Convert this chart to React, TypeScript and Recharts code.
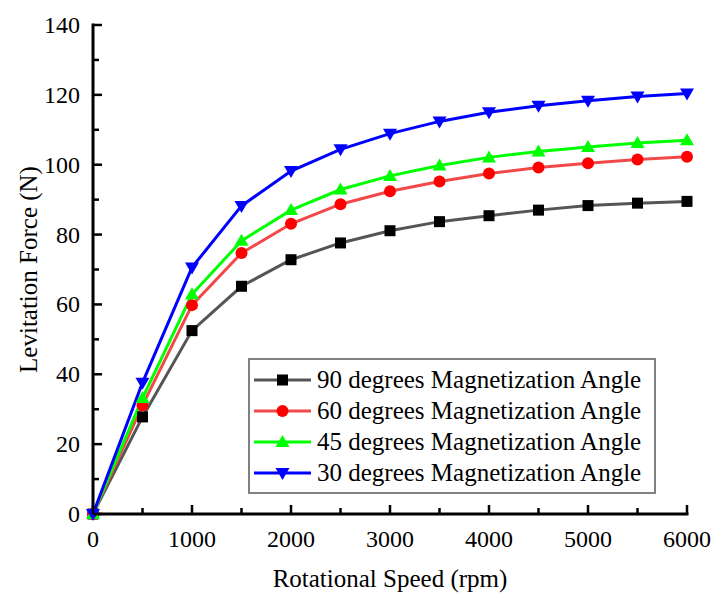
import React from "react";
import { LineChart, Line, XAxis, YAxis, Legend } from "recharts";

const speeds = [0, 500, 1000, 1500, 2000, 2500, 3000, 3500, 4000, 4500, 5000, 5500, 6000];
const angle90 = [0, 27.8, 52.5, 65.2, 72.8, 77.6, 81.1, 83.7, 85.4, 87.0, 88.3, 89.0, 89.5];
const angle60 = [0, 31.1, 59.8, 74.7, 83.1, 88.7, 92.4, 95.2, 97.5, 99.2, 100.4, 101.5, 102.3];
const angle45 = [0, 33.2, 62.9, 78.2, 87.0, 92.9, 96.8, 99.8, 102.1, 103.8, 105.1, 106.2, 107.0];
const angle30 = [0, 37.6, 70.6, 88.2, 98.2, 104.4, 108.9, 112.4, 115.0, 116.9, 118.3, 119.5, 120.4];

const xTicks = [0, 500, 1000, 1500, 2000, 2500, 3000, 3500, 4000, 4500, 5000, 5500, 6000];
const yTicks = [0, 10, 20, 30, 40, 50, 60, 70, 80, 90, 100, 110, 120, 130, 140];

const FONT = "Liberation Serif, Times New Roman, serif";

type Marker = "square" | "circle" | "up" | "down";

const SERIES: { key: string; name: string; line: string; fill: string; marker: Marker }[] = [
  { key: "a90", name: "90 degrees Magnetization Angle", line: "#555555", fill: "#000000", marker: "square" },
  { key: "a60", name: "60 degrees Magnetization Angle", line: "#f24848", fill: "#ff0000", marker: "circle" },
  { key: "a45", name: "45 degrees Magnetization Angle", line: "#00ff00", fill: "#00ff00", marker: "up" },
  { key: "a30", name: "30 degrees Magnetization Angle", line: "#0000ff", fill: "#0000ff", marker: "down" },
];

const data = speeds.map((speed, i) => ({
  speed,
  a90: angle90[i],
  a60: angle60[i],
  a45: angle45[i],
  a30: angle30[i],
}));

function drawMarker(kind: Marker, cx: number, cy: number, color: string, key?: string | number) {
  if (kind === "square") {
    return <rect key={key} x={cx - 5.5} y={cy - 5.5} width={11} height={11} fill={color} />;
  }
  if (kind === "circle") {
    return <circle key={key} cx={cx} cy={cy} r={6} fill={color} />;
  }
  if (kind === "up") {
    return <polygon key={key} points={`${cx},${cy - 7} ${cx + 7},${cy + 5} ${cx - 7},${cy + 5}`} fill={color} />;
  }
  return <polygon key={key} points={`${cx},${cy + 7} ${cx + 7},${cy - 5} ${cx - 7},${cy - 5}`} fill={color} />;
}

const frame = { stroke: "#000", strokeWidth: 3, strokeLinecap: "square" as const };
const textStyle = { fontFamily: FONT, fontSize: 24, fill: "#000" };

// inward ticks, longer on the labelled ones
function BottomTick({ x, y, payload }: any) {
  const major = payload.value % 1000 === 0;
  return (
    <g>
      <line x1={x} y1={y} x2={x} y2={y - (major ? 9 : 6)} stroke="#000" strokeWidth={2.5} />
      {major && (
        <text x={x} y={y + 33} textAnchor="middle" style={textStyle}>
          {payload.value}
        </text>
      )}
    </g>
  );
}

function LeftTick({ x, y, payload }: any) {
  const major = payload.value % 20 === 0;
  return (
    <g>
      <line x1={x} y1={y} x2={x + (major ? 9 : 6)} y2={y} stroke="#000" strokeWidth={2.5} />
      {major && (
        <text x={x - 13} y={y + 8} textAnchor="end" style={textStyle}>
          {payload.value}
        </text>
      )}
    </g>
  );
}

function TopTick({ x, y, payload }: any) {
  const major = payload.value % 1000 === 0;
  return <line x1={x} y1={y} x2={x} y2={y + (major ? 9 : 6)} stroke="#000" strokeWidth={2.5} />;
}

function RightTick({ x, y, payload }: any) {
  const major = payload.value % 20 === 0;
  return <line x1={x} y1={y} x2={x - (major ? 9 : 6)} y2={y} stroke="#000" strokeWidth={2.5} />;
}

function LegendBox() {
  return (
    <svg width={409} height={137}>
      <rect x={1} y={1} width={406} height={134} fill="#fff" stroke="#808080" strokeWidth={2} />
      {SERIES.map((s, i) => {
        const cy = 22 + i * 31;
        return (
          <g key={s.key}>
            <line x1={6} y1={cy} x2={63} y2={cy} stroke={s.line} strokeWidth={3} />
            {drawMarker(s.marker, 34.5, cy, s.fill)}
            <text x={69} y={cy + 8} style={{ ...textStyle, fontSize: 25 }}>
              {s.name}
            </text>
          </g>
        );
      })}
    </svg>
  );
}

export default function App() {
  return (
    <div style={{ position: "absolute", left: 0, top: 0, background: "#fff" }}>
      <LineChart width={714} height={597} data={data} margin={{ top: 25, right: 27, left: 0, bottom: 0 }}>
        <XAxis
          xAxisId="b"
          dataKey="speed"
          type="number"
          domain={[0, 6000]}
          ticks={xTicks}
          interval={0}
          height={83}
          tickSize={0}
          tickMargin={0}
          tickLine={false}
          axisLine={frame}
          tick={<BottomTick />}
          label={{ value: "Rotational Speed (rpm)", position: "insideBottom", offset: 10, style: { ...textStyle, fontSize: 25 } }}
        />
        <XAxis
          xAxisId="t"
          orientation="top"
          dataKey="speed"
          type="number"
          domain={[0, 6000]}
          ticks={xTicks}
          interval={0}
          height={0}
          tickSize={0}
          tickMargin={0}
          tickLine={false}
          axisLine={frame}
          tick={<TopTick />}
        />
        <YAxis
          yAxisId="l"
          type="number"
          domain={[0, 140]}
          ticks={yTicks}
          interval={0}
          width={93}
          tickSize={0}
          tickMargin={0}
          tickLine={false}
          axisLine={frame}
          tick={<LeftTick />}
          label={{ value: "Levitation Force (N)", angle: -90, position: "insideLeft", offset: 28, style: { ...textStyle, fontSize: 25, textAnchor: "middle" } }}
        />
        <YAxis
          yAxisId="r"
          orientation="right"
          type="number"
          domain={[0, 140]}
          ticks={yTicks}
          interval={0}
          width={0}
          tickSize={0}
          tickMargin={0}
          tickLine={false}
          axisLine={frame}
          tick={<RightTick />}
        />
        {SERIES.map((s) => (
          <Line
            key={s.key}
            xAxisId="b"
            yAxisId="l"
            dataKey={s.key}
            name={s.name}
            type="linear"
            stroke={s.line}
            strokeWidth={3}
            isAnimationActive={false}
            activeDot={false}
            dot={(p: any) => drawMarker(s.marker, p.cx, p.cy, s.fill, `${s.key}-${p.index}`)}
          />
        ))}
        <Legend
          layout="horizontal"
          verticalAlign="middle"
          align="center"
          content={<LegendBox />}
          wrapperStyle={{ left: 248, top: 358, width: 409, height: 137 }}
        />
      </LineChart>
    </div>
  );
}
